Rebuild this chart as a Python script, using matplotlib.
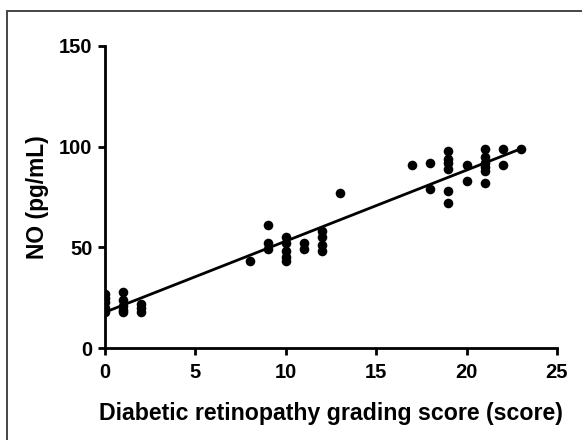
import matplotlib
matplotlib.use("Agg")
import matplotlib.pyplot as plt
from matplotlib.patches import Rectangle
import numpy as np

# Diabetic retinopathy grading score vs NO level
score_x = [0, 0, 0, 0, 0,
           1, 1, 1, 1, 1,
           2, 2, 2,
           8,
           9, 9, 9,
           10, 10, 10, 10, 10,
           11, 11,
           12, 12, 12, 12,
           13,
           17,
           18, 18,
           19, 19, 19, 19, 19, 19,
           20, 20,
           21, 21, 21, 21, 21, 21,
           22, 22,
           23]
no_y = [27, 25, 23, 20, 18,
        28, 24, 21, 19, 18,
        22, 20, 18,
        43,
        61, 52, 49,
        55, 52, 48, 45, 43,
        52, 49,
        58, 55, 51, 48,
        77,
        91,
        92, 79,
        98, 94, 92, 89, 78, 72,
        91, 83,
        99, 95, 92, 90, 88, 82,
        99, 91,
        99]

x_ticks = [0, 5, 10, 15, 20, 25]
y_ticks = [0, 50, 100, 150]

plt.rcParams['font.family'] = ['Liberation Sans', 'DejaVu Sans']
plt.rcParams['font.weight'] = 'bold'

fig = plt.figure(figsize=(5.82, 4.40), dpi=100)
ax = fig.add_axes([0.1804, 0.209, 0.7766, 0.6865])

ax.scatter(score_x, no_y, s=48, color='black', zorder=3, linewidths=0)

# linear fit over the data range
slope, intercept = np.polyfit(score_x, no_y, 1)
xf = np.array([min(score_x), max(score_x)])
ax.plot(xf, slope * xf + intercept, color='black', lw=2, zorder=2)

ax.set_xlim(0, 25)
ax.set_ylim(0, 150)
ax.set_xticks(x_ticks)
ax.set_yticks(y_ticks)
for sp in ['top', 'right']:
    ax.spines[sp].set_visible(False)
for sp in ['left', 'bottom']:
    ax.spines[sp].set_linewidth(2)
ax.tick_params(width=2, length=5, labelsize=14.5, pad=4)
ax.tick_params(axis='x', pad=6)
for lab in ax.get_xticklabels() + ax.get_yticklabels():
    lab.set_fontweight('bold')

ax.set_xlabel('Diabetic retinopathy grading score (score)', fontsize=16.7,
              fontweight='bold', labelpad=14)
ax.set_ylabel('NO (pg/mL)', fontsize=16.4, fontweight='bold', labelpad=7)

# grey frame round the figure (cropped at right and bottom)
frame = Rectangle((7 / 582, -1), 2, 1 + (1 - 11 / 440), transform=fig.transFigure,
                  fill=False, edgecolor='#444444', lw=1.4, clip_on=False)
fig.patches.append(frame)

fig.savefig('out.png', dpi=100)
